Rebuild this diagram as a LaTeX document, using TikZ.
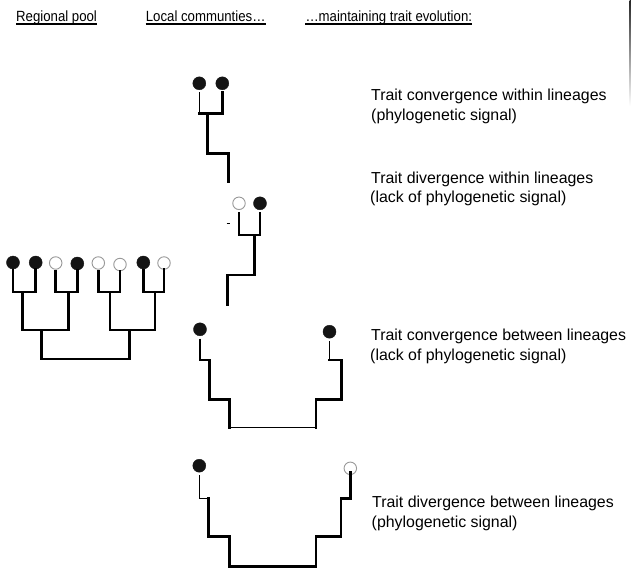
\documentclass[tikz,border=0pt]{standalone}
\usepackage{fontspec}
\setmainfont{Liberation Sans}
\newcommand{\hdrtext}[1]{\scalebox{1}[1.12]{#1}}
\begin{document}
\begin{tikzpicture}[x=1pt,y=-1pt,
  br/.style={line width=2.6pt,line cap=rect,line join=miter},
  brm/.style={line width=2pt,line cap=rect},
  tw/.style={line width=1.2pt},
  bw/.style={line width=1.1pt},
  fleaf/.style={circle,fill=black!92,draw=black!92,line width=0.4pt,minimum size=13pt,inner sep=0pt},
  oleaf/.style={circle,fill=white,draw=black!40,line width=0.9pt,minimum size=12.5pt,inner sep=0pt},
  hdr/.style={anchor=base west,inner sep=0pt,font=\fontsize{13.2}{15}\selectfont},
  lbl/.style={anchor=base west,inner sep=0pt,font=\fontsize{15.9}{19}\selectfont},
  ul/.style={line width=1.3pt}]
\useasboundingbox (0,0) rectangle (631,571);
\fill[white] (0,0) rectangle (631,571);
\shade[top color=black!85,bottom color=white] (629.6,0) rectangle (631,106);

% headers
\node[hdr] (h1) at (16,21) {\hdrtext{Regional pool}};
\node[hdr] (h2) at (145.7,21) {\hdrtext{Local communties…}};
\node[hdr] (h3) at (305.3,21) {\hdrtext{…maintaining trait evolution:}};
\foreach \h in {h1,h2,h3}{
  \draw[ul] ([yshift=-3pt]\h.base west) -- ([yshift=-3pt]\h.base east);
}

% labels
\node[lbl] (t1a) at (371,100.5) {Trait convergence within lineages};
\node[lbl] (t1b) at (371,120.3) {(phylogenetic signal)};
\node[lbl] (t2a) at (371,183.3) {Trait divergence within lineages};
\node[lbl] (t2b) at (370,202.6) {(lack of phylogenetic signal)};
\node[lbl] (t3a) at (371,340.7) {Trait convergence between lineages};
\node[lbl] (t3b) at (370,360.7) {(lack of phylogenetic signal)};
\node[lbl] (t4a) at (372,507.3) {Trait divergence between lineages};
\node[lbl] (t4b) at (371.5,527.3) {(phylogenetic signal)};

% ---------- regional pool ----------
\node[fleaf] (L1) at (13,262.5) {};
\node[fleaf] (L2) at (35.7,262.5) {};
\node[oleaf] (L3) at (55.7,263) {};
\node[fleaf] (L4) at (77.3,263.5) {};
\node[oleaf] (L5) at (98.3,263) {};
\node[oleaf] (L6) at (120,264.5) {};
\node[fleaf] (L7) at (143.3,262.5) {};
\node[oleaf] (L8) at (164,263) {};
\coordinate (P1) at (22.7,292);
\coordinate (P2) at (68.3,292);
\coordinate (P3) at (110,292);
\coordinate (P4) at (155,292);
\coordinate (C1) at (41.7,330);
\coordinate (C2) at (129.3,330);
\coordinate (R) at (85.5,359);
\draw[br,shorten <=1.5pt] (L1) |- (P1) -| (L2);
\draw[br,shorten <=1.5pt] (L3) |- (P2) -| (L4);
\draw[br,shorten <=1.5pt] (L5) |- (P3) -| (L6);
\draw[br,shorten <=1.5pt] (L7) |- (P4) -| (L8);
\draw[br] (P1) |- (C1) -| (P2);
\draw[br] (P3) |- (C2) -| (P4);
\draw[br] (C1) |- (R) -| (C2);

% ---------- community 1 ----------
\node[fleaf] (A1) at (199.3,83.3) {};
\node[fleaf] (A2) at (222.3,83.3) {};
\coordinate (J1) at (207.7,113.3);
\coordinate (K1) at (228.3,153.3);
\coordinate (E1) at (228.3,181.7);
\draw[tw,shorten <=2pt] (A1) -- (A1 |- J1);
\draw[br,shorten <=2pt] (A2) |- (A1 |- J1);
\draw[br] (J1) |- (K1) -- (E1);

% ---------- community 2 ----------
\node[oleaf] (B1) at (239,203.3) {};
\node[fleaf] (B2) at (260,203.3) {};
\coordinate (J2) at (254.3,235);
\coordinate (K2) at (227.7,275);
\coordinate (E2) at (227.7,305);
\draw[brm,shorten <=2.5pt] (B1) |- (J2);
\draw[brm,shorten >=2.5pt] (J2) -| (B2);
\draw[br] (J2) |- (K2) -- (E2);
\coordinate (M2a) at (226.5,223.3);
\coordinate (M2b) at (229.5,223.3);
\draw[line width=1pt] (M2a) -- (M2b);

% ---------- community 3 ----------
\node[fleaf] (D1) at (200,329.3) {};
\node[fleaf] (D2) at (329.5,331.7) {};
\coordinate (c3a) at (209.6,360);
\coordinate (c3b) at (209.6,399.3);
\coordinate (c3c) at (229.3,399.3);
\coordinate (c3d) at (229.3,427.3);
\coordinate (c3e) at (316,427.3);
\coordinate (c3f) at (316,399.3);
\coordinate (c3g) at (341.7,399.3);
\coordinate (c3h) at (341.7,360);
\draw[tw,shorten <=2.5pt] (D1) |- (c3a);
\draw[br] (c3a) -- (c3b) -- (c3c) -- (c3d);
\draw[bw] (c3d) -- (c3e);
\draw[br] (c3e) -- (c3f) -- (c3g) -- (c3h) -- (D2 |- c3h);
\draw[tw,shorten >=2.5pt] (D2 |- c3h) -- (D2);

% ---------- community 4 ----------
\node[fleaf] (F1) at (199.3,465.7) {};
\node[oleaf] (F2) at (350.3,468.3) {};
\coordinate (c4a) at (208.5,498.3);
\coordinate (c4b) at (208.5,536.7);
\coordinate (c4c) at (229.3,536.7);
\coordinate (c4d) at (229.3,566.7);
\coordinate (c4e) at (316,566.7);
\coordinate (c4f) at (316,536.7);
\coordinate (c4g) at (341,536.7);
\coordinate (c4h) at (341,498.3);
\draw[tw,shorten <=3pt] (F1) |- (c4a);
\draw[br] (c4a) -- (c4b) -- (c4c) -- (c4d) -- (c4e) -- (c4f) -- (c4g) -- (c4h) -| ([yshift=3pt]F2.south);
\end{tikzpicture}
\end{document}
